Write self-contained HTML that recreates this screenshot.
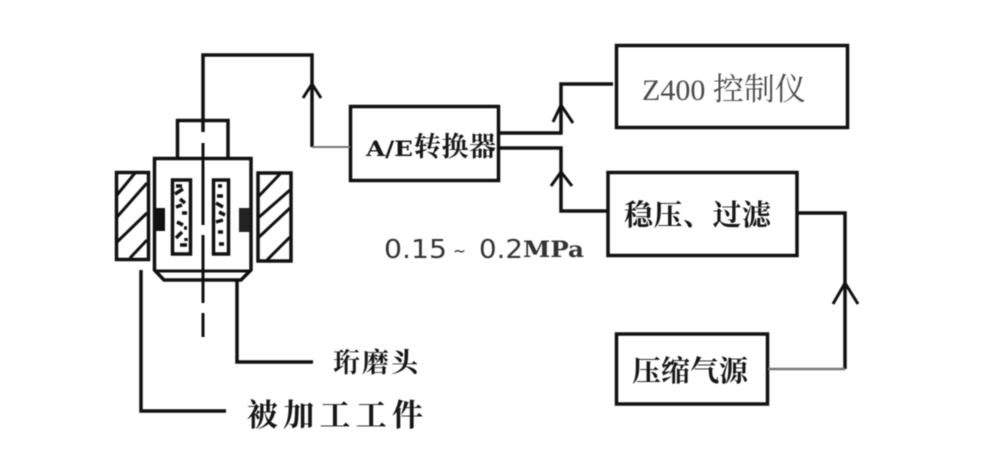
<!DOCTYPE html>
<html><head><meta charset="utf-8"><style>
html,body{margin:0;padding:0;background:#fff;width:998px;height:470px;overflow:hidden}
svg{display:block;filter:blur(0.55px)}
text{font-family:"Liberation Serif","Noto Serif CJK SC",serif;fill:#161616}
</style></head><body>
<svg width="998" height="470" viewBox="0 0 998 470" xmlns="http://www.w3.org/2000/svg">
<rect width="998" height="470" fill="#fff"/>
<g fill="none" stroke="#111" stroke-width="3.500">
<!-- boxes -->
<rect x="350.500" y="106.500" width="148" height="74"/>
<rect x="616.500" y="45.500" width="231" height="82"/>
<rect x="608" y="172.500" width="189" height="83"/>
<rect x="616.500" y="334" width="151" height="70"/>
<!-- connectors -->
<path d="M203 132V55H312V147"/>
<path d="M312 147H350" stroke="#777" stroke-width="2"/>
<path d="M499 133H561V84H613"/>
<path d="M499 148H561V211H608"/>
<path d="M797 213H845V369"/>
<path d="M768 369H845" stroke="#777" stroke-width="2.500"/>
<!-- arrowheads -->
<path d="M303 98L312 84L321 98" stroke-width="3"/>
<path d="M553 122L561 105L573 123" stroke-width="3"/>
<path d="M551 186L561 172L572 186" stroke-width="3"/>
<path d="M833 304L845 283L858 304" stroke-width="3"/>
<!-- head -->
<path d="M177.500 158V120.500H228V158"/>
<path d="M154.500 158.500H251V270L241 280H164L154.500 270Z"/>
<path d="M154.500 271H251" stroke-width="3"/>
<rect x="172.500" y="180" width="18" height="74"/>
<rect x="213.500" y="180" width="15" height="74"/>
<!-- hatched -->
<rect x="116.500" y="172.500" width="32" height="87"/>
<rect x="258" y="173" width="33" height="88"/>
<path d="M117 195L135 173M117 217L147 183M117 242L147 213M130 258L147 240" stroke-width="3"/>
<path d="M258 197L280 174M258 218L290 190M258 238L290 208M267 260L290 237" stroke-width="3"/>
<!-- center line -->
<path d="M203 143V225M203 235V303M203 313V337" stroke-width="3"/>
<!-- leaders -->
<path d="M237 280V362H313"/>
<path d="M141 270V411H226"/>
<!-- specks -->
<path d="M176 186h6M175 194l8 -5M180 199l5 4M176 207l6 -2M182 213h5M177 222l6 3M184 228h3M176 238l6 -6M180 245h7M186 238v3" stroke-width="3.500"/>
<path d="M218 186h4M217 196h6M216 203l7 4M219 212l6 3M216 222l7 -2M218 232h5M219 244h5" stroke-width="3.500"/>
</g>
<rect x="155" y="208" width="10" height="23" fill="#111"/>
<rect x="239" y="208" width="11" height="24" fill="#222"/>
<text x="642" y="100" font-size="30" style="fill:#4a4a4a">Z400 <tspan font-size="31">控制仪</tspan></text>
<text x="366" y="156" font-size="21" font-weight="700" textLength="47" lengthAdjust="spacingAndGlyphs" style="font-family:'DejaVu Serif','Liberation Serif',serif">A/E</text>
<text x="414" y="156" font-size="27" font-weight="700" textLength="82" lengthAdjust="spacing">转换器</text>
<text x="624" y="225" font-size="29" font-weight="700" textLength="147" lengthAdjust="spacing">稳压、过滤</text>
<text x="632" y="381" font-size="29" font-weight="700" textLength="116" lengthAdjust="spacing">压缩气源</text>
<text x="384" y="258" font-size="26" textLength="63" lengthAdjust="spacingAndGlyphs" style="font-family:'DejaVu Sans','Liberation Sans',sans-serif;fill:#333">0.15</text>
<text x="453" y="257" font-size="18" textLength="13" lengthAdjust="spacingAndGlyphs" style="font-family:'DejaVu Sans',sans-serif;fill:#333">~</text>
<text x="479" y="258" font-size="26" textLength="44" lengthAdjust="spacingAndGlyphs" style="font-family:'DejaVu Sans','Liberation Sans',sans-serif;fill:#333">0.2</text>
<text x="523" y="257" font-size="22" font-weight="700" textLength="61" lengthAdjust="spacingAndGlyphs" style="font-family:'DejaVu Serif','Liberation Serif',serif;fill:#333">MPa</text>
<text x="333" y="372" font-size="27" font-weight="700" textLength="85" lengthAdjust="spacing">珩磨头</text>
<text x="247" y="426" font-size="31" font-weight="700" textLength="176" lengthAdjust="spacing">被加工工件</text>
</svg>
</body></html>
